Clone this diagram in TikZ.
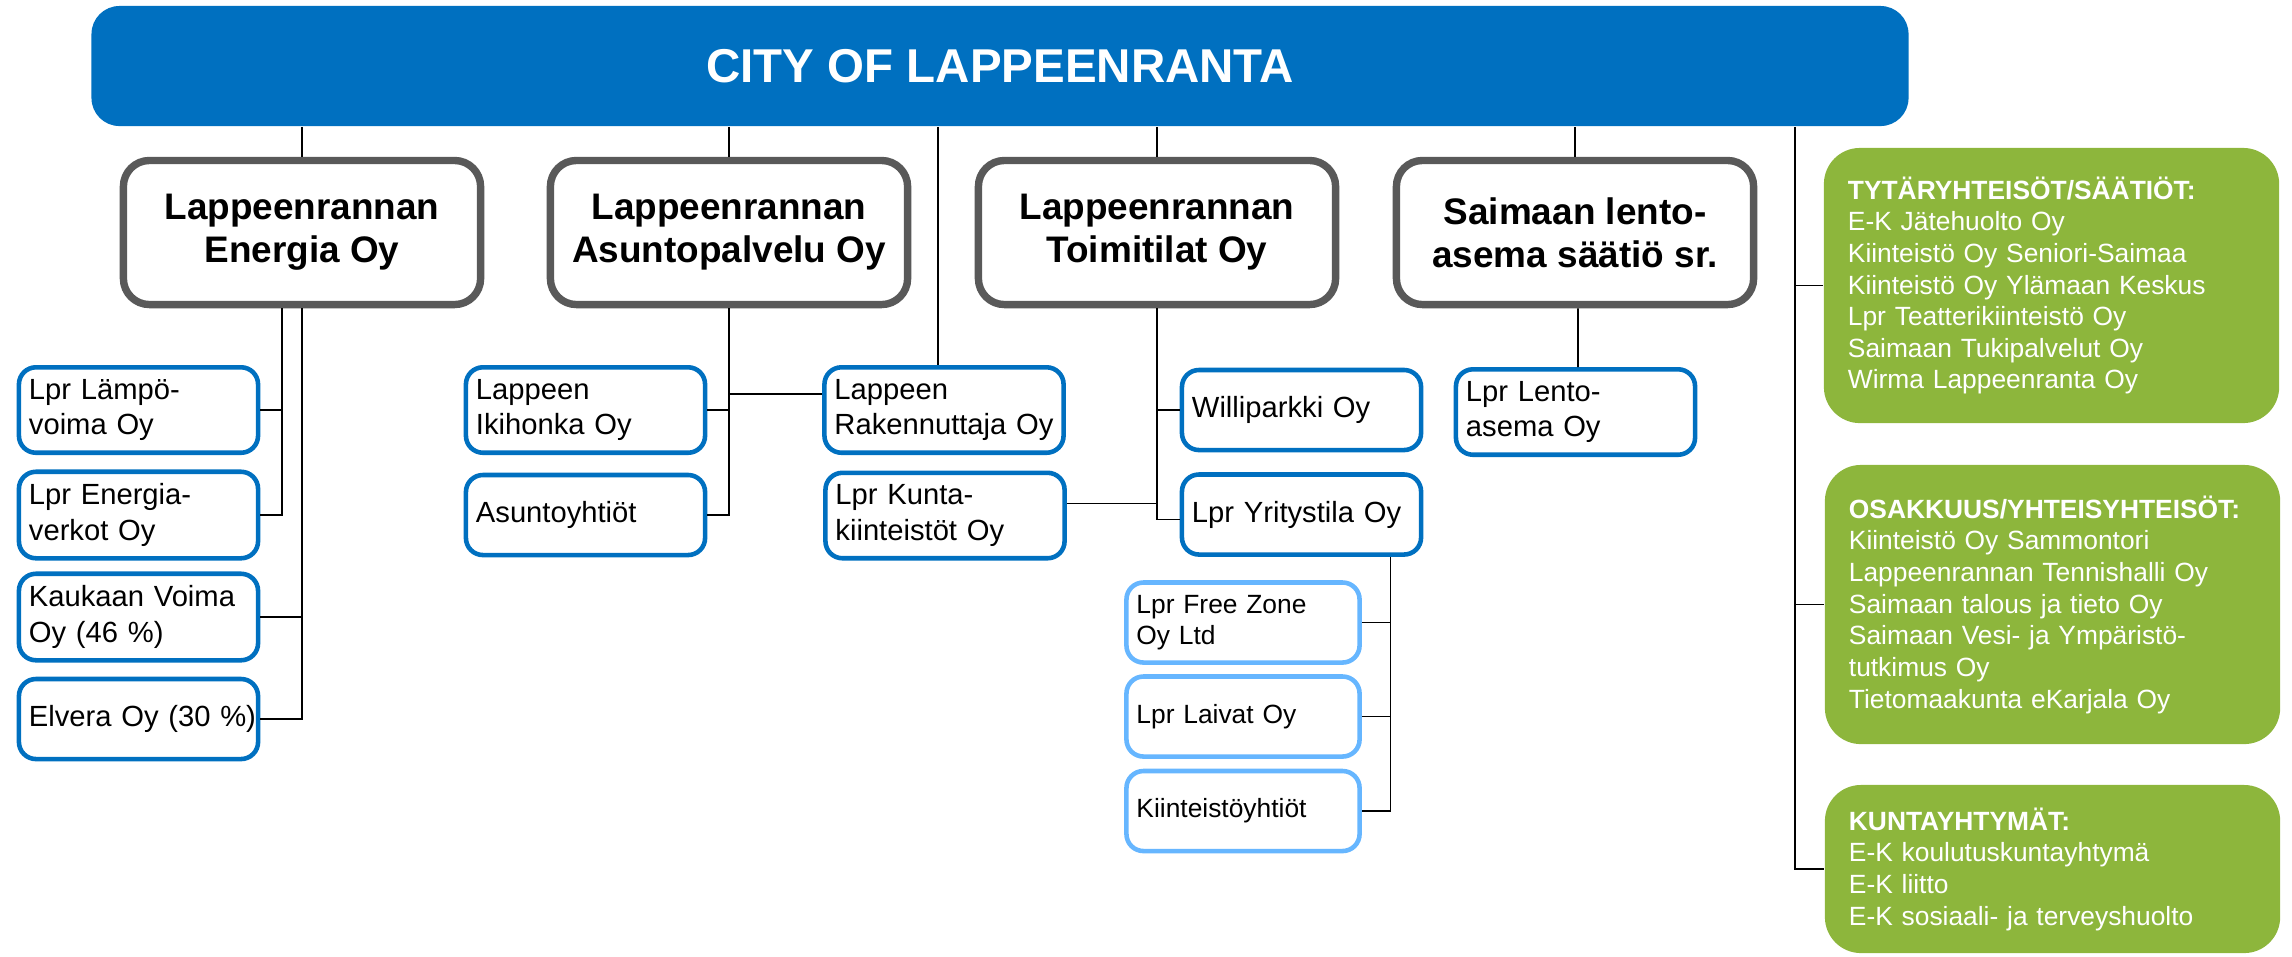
\documentclass[tikz,border=0pt]{standalone}
\usepackage{fontspec}
\setmainfont{Liberation Sans}
\usetikzlibrary{positioning, calc}
\definecolor{CIT}{HTML}{0070C0}
\definecolor{GRY}{HTML}{595959}
\definecolor{LIG}{HTML}{66B6FF}
\definecolor{GRN}{HTML}{8DB63C}
\tikzset{
  CITY/.style={% Style for the top box
      rectangle, rounded corners=0.28cm,
      fill=CIT, text=white,
      font=\fontsize{13.5}{16}\selectfont\bfseries,
      minimum width=18.16cm, minimum height=1.2cm,
      inner sep=0pt
  },
  MAIN/.style={% Style for the four big companies
      rectangle, rounded corners=0.26cm,
      line width=2.1pt, draw=GRY, fill=white,
      align=center,
      font=\fontsize{10.5}{12.2}\selectfont\bfseries,
      minimum width=3.57cm, minimum height=1.44cm,
      inner sep=0pt
  },
  SUBD/.style={% Style for dark blue boxes
      rectangle, rounded corners=0.17cm,
      line width=1.3pt, draw=CIT, fill=white,
      align=left, text width=2.19cm, inner xsep=0.1cm,
      font=\fontsize{8.3}{10.2}\selectfont,
      minimum height=0.8cm
  },
  SUBL/.style={% Style for light blue boxes
      SUBD, draw=LIG, text width=2.13cm,
      font=\fontsize{7.5}{9}\selectfont
  },
  GRP/.style={% Style for green lists
      rectangle, rounded corners=0.36cm,
      fill=GRN, text=white,
      align=left, text width=4.07cm, inner xsep=0.24cm,
      font=\fontsize{7.5}{9}\selectfont
  },
  LINK/.style={line width=0.5pt, black}
}

\begin{document}
\begin{tikzpicture}[x=0.01cm, y=-0.01cm]
  \useasboundingbox (0,0) rectangle (2292,956);
  % top
  \node[CITY] (CITY) at (1000,66) {CITY OF LAPPEENRANTA};
  % big companies
  \foreach \id/\txt/\x in {ENE/{Lappeenrannan\\Energia Oy}/302,
                           ASU/{Lappeenrannan\\Asuntopalvelu Oy}/729,
                           TOI/{Lappeenrannan\\Toimitilat Oy}/1157,
                           SAI/{Saimaan lento-\\asema säätiö sr.}/1575} {
    \node[MAIN] (\id) at (\x,232.5) {\txt};
  }
  % Energia subsidiaries
  \foreach \id/\txt/\y in {LAM/{Lpr Lämpö-\\voima Oy}/410,
                           VRK/{Lpr Energia-\\verkot Oy}/515,
                           KAU/{Kaukaan~Voima\\Oy (46~\%)}/617,
                           ELV/{Elvera~Oy~(30~\%)}/719} {
    \node[SUBD] (\id) at (138.5,\y) {\txt};
  }
  % Asuntopalvelu and Toimitilat side
  \node[SUBD] (IKI) at (585.5,410) {Lappeen\\Ikihonka Oy};
  \node[SUBD] (ASY) at (585.5,515) {Asuntoyhtiöt};
  \node[SUBD] (RAK) at (944,410) {Lappeen\\Rakennuttaja~Oy};
  \node[SUBD] (KUN) at (945,515.5) {Lpr Kunta-\\kiinteistöt Oy};
  \node[SUBD] (WIL) at (1301.5,410) {Williparkki Oy};
  \node[SUBD] (YRI) at (1301.5,514.5) {Lpr~Yritystila~Oy};
  \node[SUBD] (LEN) at (1575.5,412) {Lpr Lento-\\asema Oy};
  % Yritystila subsidiaries
  \foreach \id/\txt/\y in {FRZ/{Lpr Free Zone\\Oy Ltd}/622.5,
                           LAI/{Lpr Laivat Oy}/716.5,
                           KYH/{Kiinteistöyhtiöt}/811} {
    \node[SUBL] (\id) at (1243,\y) {\txt};
  }
  % green lists
  \node[GRP, minimum height=2.75cm] (G1) at (2051.5,285.5) {%
    \textbf{TYTÄRYHTEISÖT/SÄÄTIÖT:}\\E-K Jätehuolto Oy\\Kiinteistö Oy Seniori-Saimaa\\
    Kiinteistö Oy Ylämaan Keskus\\Lpr Teatterikiinteistö Oy\\Saimaan Tukipalvelut Oy\\
    Wirma Lappeenranta Oy};
  \node[GRP, minimum height=2.79cm] (G2) at (2052.5,604.5) {%
    \textbf{OSAKKUUS/YHTEISYHTEISÖT:}\\Kiinteistö Oy Sammontori\\Lappeenrannan Tennishalli Oy\\
    Saimaan talous ja tieto Oy\\Saimaan Vesi- ja Ympäristö-\\tutkimus Oy\\
    Tietomaakunta eKarjala Oy};
  \node[GRP, minimum height=1.68cm] (G3) at (2052.5,869) {%
    \textbf{KUNTAYHTYMÄT:}\\E-K koulutuskuntayhtymä\\E-K liitto\\E-K sosiaali- ja terveyshuolto};

  % lines from the city
  \foreach \n in {ENE, ASU, TOI, SAI}
    \draw[LINK] (\n.north |- CITY.south) -- (\n.north);
  \coordinate (rak) at ([xshift=-0.06cm]RAK.north);
  \draw[LINK] (rak |- CITY.south) -- (rak);
  \coordinate (rgt) at (1795,0);
  \draw[LINK] (rgt |- CITY.south) |- (G3.west);
  \draw[LINK] (G1.west) -- (G1.west -| rgt);
  \draw[LINK] (G2.west) -- (G2.west -| rgt);
  % Energia
  \coordinate (ene) at ([xshift=-0.2cm]ENE.south);
  \draw[LINK] (ene) |- (VRK.east);
  \draw[LINK] (LAM.east) -- (LAM.east -| ene);
  \draw[LINK] (ENE.south) |- (ELV.east);
  \draw[LINK] (KAU.east) -- (KAU.east -| ENE.south);
  % Asuntopalvelu
  \draw[LINK] (ASU.south) |- (ASY.east);
  \draw[LINK] (IKI.east) -- (IKI.east -| ASU.south);
  \coordinate (rkw) at ([yshift=0.16cm]RAK.west);
  \draw[LINK] (rkw) -- (rkw -| ASU.south);
  % Toimitilat
  \draw[LINK] (TOI.south) |- ([yshift=-0.05cm]YRI.west);
  \draw[LINK] (WIL.west) -- (WIL.west -| TOI.south);
  \coordinate (kun) at ([yshift=0.12cm]KUN.east);
  \draw[LINK] (kun) -- (kun -| TOI.south);
  \coordinate (yri) at ([xshift=0.89cm]YRI.south);
  \draw[LINK] (yri) |- (KYH.east);
  \draw[LINK] (FRZ.east) -- (FRZ.east -| yri);
  \draw[LINK] (LAI.east) -- (LAI.east -| yri);
  % Saimaan
  \draw[LINK] ([xshift=0.03cm]SAI.south) -- ([xshift=0.025cm]LEN.north);
\end{tikzpicture}
\end{document}
